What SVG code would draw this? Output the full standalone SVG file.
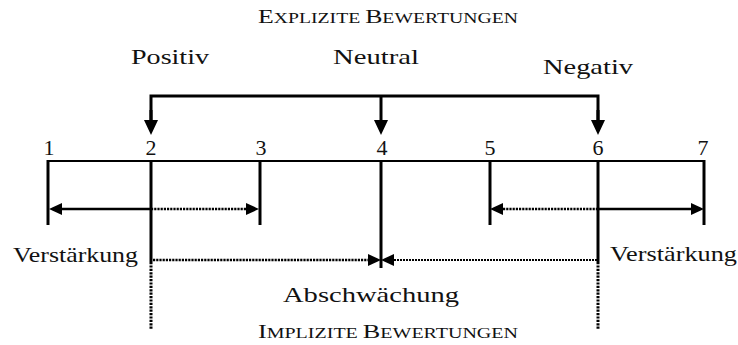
<svg xmlns="http://www.w3.org/2000/svg" width="738" height="345" viewBox="0 0 738 345">
<defs>
<style>
text{font-family:"Liberation Serif","Times New Roman",serif;fill:#111}
.lbl{font-size:21px}
.num{font-size:22px;text-anchor:middle}
.sc{font-size:19px}
.sc tspan.s{font-size:14.5px}
.tick{stroke:#000;stroke-width:3;fill:none}
.axis{stroke:#000;stroke-width:2;fill:none}
.solid{stroke:#000;stroke-width:2.5;fill:none}
.dot{stroke:#000;stroke-width:2.6;stroke-dasharray:2.2 1;fill:none}
.dotthin{stroke:#000;stroke-width:1.8;stroke-dasharray:2 1;fill:none}
.vdot{stroke:#000;stroke-width:3;stroke-dasharray:2.2 1.2;fill:none}
</style>
<marker id="big" markerUnits="userSpaceOnUse" viewBox="0 0 15 14" refX="0" refY="7" markerWidth="15" markerHeight="14" orient="auto">
<path d="M0,0 L15,7 L0,14 Z" fill="#000"/>
</marker>
<marker id="sm" markerUnits="userSpaceOnUse" viewBox="0 0 13 12" refX="0" refY="6" markerWidth="13" markerHeight="12" orient="auto">
<path d="M0,0 L13,6 L0,12 Z" fill="#000"/>
</marker>
</defs>

<g id="title-explizit">
<text class="sc" x="258" y="23" textLength="260" lengthAdjust="spacingAndGlyphs">E<tspan class="s">XPLIZITE </tspan>B<tspan class="s">EWERTUNGEN</tspan></text>
</g>
<g id="positiv"><text class="lbl" x="131" y="64" textLength="78" lengthAdjust="spacingAndGlyphs">Positiv</text></g>
<g id="neutral"><text class="lbl" x="333" y="64" textLength="86" lengthAdjust="spacingAndGlyphs">Neutral</text></g>
<g id="negativ"><text class="lbl" x="543" y="74" textLength="90" lengthAdjust="spacingAndGlyphs">Negativ</text></g>

<g id="scale">
<text class="num" x="49" y="155">1</text>
<text class="num" x="151" y="155">2</text>
<text class="num" x="261" y="155">3</text>
<text class="num" x="382" y="155">4</text>
<text class="num" x="490" y="155">5</text>
<text class="num" x="598" y="155">6</text>
<text class="num" x="703" y="155">7</text>
<line class="axis" x1="47" y1="161" x2="705" y2="161"/>
<line class="tick" x1="48" y1="160" x2="48" y2="225"/>
<line class="tick" x1="151" y1="160" x2="151" y2="262"/>
<line class="tick" x1="260" y1="160" x2="260" y2="225"/>
<line class="tick" x1="381" y1="160" x2="381" y2="268"/>
<line class="tick" x1="490" y1="160" x2="490" y2="225"/>
<line class="tick" x1="598" y1="160" x2="598" y2="262"/>
<line class="tick" x1="704" y1="160" x2="704" y2="225"/>
<line class="vdot" x1="151" y1="262" x2="151" y2="330"/>
<line class="vdot" x1="598" y1="262" x2="598" y2="330"/>
</g>

<g id="connectors">
<polyline class="tick" points="151,120 151,96 598,96 598,120"/>
<line class="tick" x1="381" y1="96" x2="381" y2="120" marker-end="url(#big)"/>
<line class="tick" x1="151" y1="110" x2="151" y2="120" marker-end="url(#big)"/>
<line class="tick" x1="598" y1="110" x2="598" y2="120" marker-end="url(#big)"/>

<line class="solid" x1="151" y1="209" x2="62" y2="209" marker-end="url(#sm)"/>
<line class="dot" x1="151" y1="209" x2="246" y2="209" marker-end="url(#sm)"/>
<line class="dot" x1="598" y1="209" x2="503" y2="209" marker-end="url(#sm)"/>
<line class="solid" x1="598" y1="209" x2="691" y2="209" marker-end="url(#sm)"/>

<line class="dot" x1="153" y1="260" x2="368" y2="260" marker-end="url(#sm)"/>
<line class="dotthin" x1="597" y1="260" x2="394" y2="260" marker-end="url(#sm)"/>
</g>

<g id="verstaerkung-links"><text class="lbl" x="13" y="262" textLength="125" lengthAdjust="spacingAndGlyphs">Verstärkung</text></g>
<g id="verstaerkung-rechts"><text class="lbl" x="610" y="261" textLength="127" lengthAdjust="spacingAndGlyphs">Verstärkung</text></g>
<g id="abschwaechung"><text class="lbl" x="283" y="302" textLength="176" lengthAdjust="spacingAndGlyphs">Abschwächung</text></g>
<g id="title-implizit">
<text class="sc" x="258" y="338" textLength="260" lengthAdjust="spacingAndGlyphs">I<tspan class="s">MPLIZITE </tspan>B<tspan class="s">EWERTUNGEN</tspan></text>
</g>
</svg>
